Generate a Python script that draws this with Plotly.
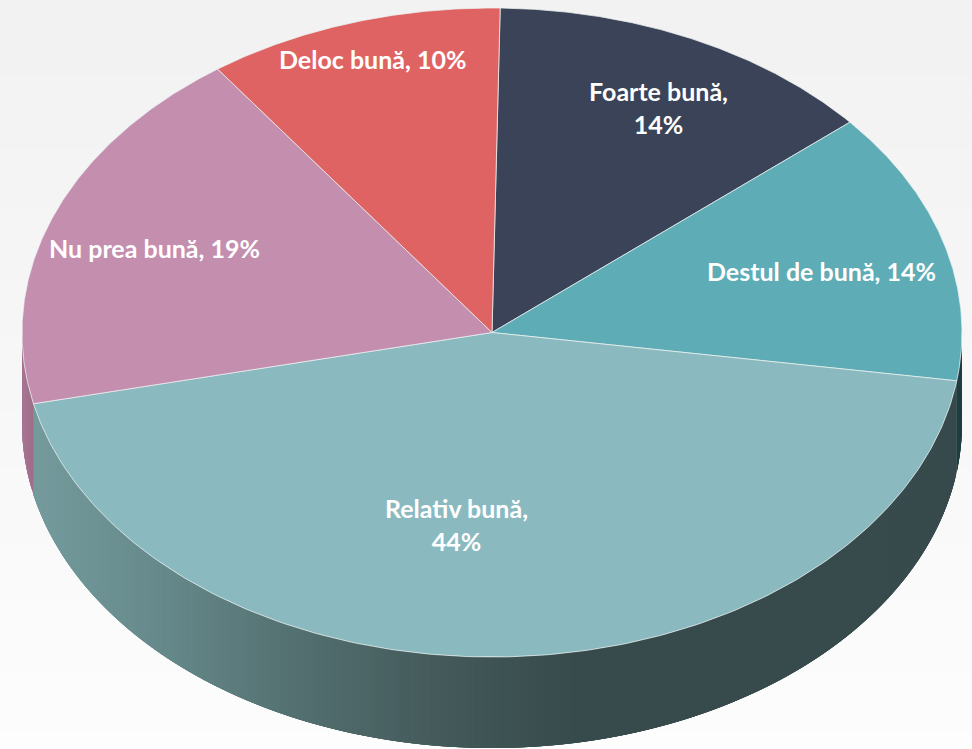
import numpy as np
import plotly.graph_objects as go

# Slices, clockwise from the top. Shares.
categories = ["Foarte bună", "Destul de bună", "Relativ bună", "Nu prea bună", "Deloc bună"]
values = [13.5, 13.6, 44.1, 18.6, 10.2]
colors = ["#3a4357", "#5eacb5", "#8abac0", "#c48eaf", "#e06363"]
# Line break inside the label, same as the original
label_sep = [",<br>", ", ", ",<br>", ", ", ", "]

# Pie geometry in page pixels
CX, CY = 492, 332.5
RX, RY = 470, 324.5
DEPTH = 91
START = 1.0  # degrees clockwise from 12 o'clock
WIDTH, HEIGHT = 972, 749

# Label centres in page pixels
label_pos = [(658, 107), (821, 271), (456, 524), (154, 248), (372, 59)]


def ellipse(deg, dy=0):
    t = np.radians(deg)
    return CX + RX * np.sin(t), CY - RY * np.cos(t) + dy


def mix(stops, x):
    xs = [s[0] for s in stops]
    chans = [np.interp(x, xs, [s[1][i] for s in stops]) for i in range(3)]
    return "rgb(%d,%d,%d)" % tuple(chans)


# Shading of the side wall, left to right
teal_wall = [(34, (117, 155, 157)), (150, (104, 140, 142)), (300, (84, 112, 112)),
             (440, (68, 90, 91)), (585, (55, 74, 76)), (962, (55, 74, 76))]
pink_wall = [(22, (168, 118, 146)), (34, (160, 110, 138))]
dark_wall = [(950, (31, 62, 66)), (962, (31, 62, 66))]

edges = START + np.cumsum([0] + values) * 360 / sum(values)

fig = go.Figure()

# Side wall: only the part facing the viewer (90 to 270 degrees).
# Each strip runs on under the next one so no seams show.
for i, wall in [(1, dark_wall), (2, teal_wall), (3, pink_wall)]:
    a0, a1 = max(edges[i], 90), min(edges[i + 1], 270)
    steps = np.arange(a0, a1, 0.5).tolist() + [a1]
    for s0, s1 in zip(steps[:-1], steps[1:]):
        ts = np.linspace(s0, min(s1 + 1.5, a1), 6)
        xt, yt = ellipse(ts)
        xb, yb = ellipse(ts[::-1], DEPTH)
        fig.add_trace(go.Scatter(
            x=np.r_[xt, xb], y=np.r_[yt, yb],
            mode="lines", fill="toself", fillcolor=mix(wall, xt[0]),
            line=dict(width=0),
            hoverinfo="skip", showlegend=False
        ))

# Top face
for i, name in enumerate(categories):
    ts = np.linspace(edges[i], edges[i + 1], 200)
    xs, ys = ellipse(ts)
    fig.add_trace(go.Scatter(
        x=np.r_[CX, xs, CX], y=np.r_[CY, ys, CY],
        mode="lines", fill="toself", fillcolor=colors[i],
        line=dict(color="rgba(235,240,240,0.75)", width=1),
        name=name, text=f"{name}, {values[i]:.0f}%", hoverinfo="text",
        showlegend=False
    ))

# Labels
for i, name in enumerate(categories):
    fig.add_annotation(
        x=label_pos[i][0], y=label_pos[i][1],
        text=f"<b>{name}{label_sep[i]}{values[i]:.0f}%</b>",
        showarrow=False, align="center",
        font=dict(family="Lato", size=25, color="white")
    )

# Page background: light grey at the top fading to white
bands = 40
shapes = []
for b in range(bands):
    g = int(242 + (253 - 242) * b / (bands - 1))
    shapes.append(dict(
        type="rect", xref="paper", yref="paper", layer="below",
        x0=0, x1=1, y0=1 - (b + 1) / bands, y1=1 - b / bands,
        fillcolor=f"rgb({g},{g},{g})", line=dict(width=0)
    ))

fig.update_layout(
    width=WIDTH, height=HEIGHT,
    margin=dict(l=0, r=0, t=0, b=0),
    paper_bgcolor="#fafafa", plot_bgcolor="rgba(0,0,0,0)",
    shapes=shapes,
    xaxis=dict(range=[0, WIDTH], visible=False, fixedrange=True),
    yaxis=dict(range=[HEIGHT, 0], visible=False, fixedrange=True),
)

fig.write_html("out.html", config=dict(displayModeBar=False),
               post_script="document.body.style.margin='0';")
